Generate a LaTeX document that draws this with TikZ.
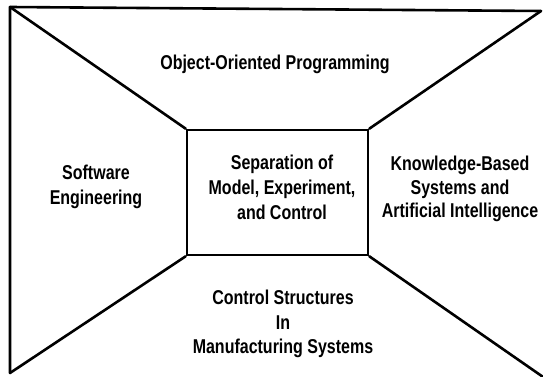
\documentclass[tikz,border=0pt]{standalone}
\usepackage{fontspec}
\setmainfont{Liberation Sans}[FakeStretch=0.8]
\begin{document}
\begin{tikzpicture}[x=1pt,y=-1pt,
  wire/.style={line width=2.6pt, line cap=round, line join=round},
  lbl/.style={align=center, inner sep=0pt, font=\bfseries\fontsize{20}{25}\selectfont},
  core/.style={draw, line width=2.6pt, minimum width=181pt, minimum height=125pt, inner sep=0pt}]
  \useasboundingbox (0,0) rectangle (543,377);
  \clip (0,0) rectangle (543,377);

  % outer frame corners (right and bottom sides run off the sheet)
  \coordinate (tl) at (10,7);
  \coordinate (tr) at (541,11);
  \coordinate (bl) at (10,373);
  \coordinate (br) at (546,379);

  % central box
  \node[core] (mid) at (277.5,192.5) {};
  \node[lbl] (midtxt) at (282,187) {Separation of\\Model, Experiment,\\and Control};

  % frame and perspective lines
  \draw[wire] (bl) -- (tl) -- (tr);
  \draw[wire] (tl) -- (mid.north west);
  \draw[wire] (tr) -- (mid.north east);
  \draw[wire] (bl) -- (mid.south west);
  \draw[wire] (br) -- (mid.south east);

  % panel labels
  \node[lbl] (oop) at (275,64) {Object-Oriented Programming};
  \node[lbl] (se) at (96,187) {Software\\Engineering};
  \node[lbl, font=\bfseries\fontsize{20}{23.5}\selectfont] (kb) at (460,189) {Knowledge-Based\\Systems and\\Artificial Intelligence};
  \node[lbl, font=\bfseries\fontsize{20}{24.5}\selectfont] (cs) at (283,324) {Control Structures\\In\\Manufacturing Systems};
\end{tikzpicture}
\end{document}
